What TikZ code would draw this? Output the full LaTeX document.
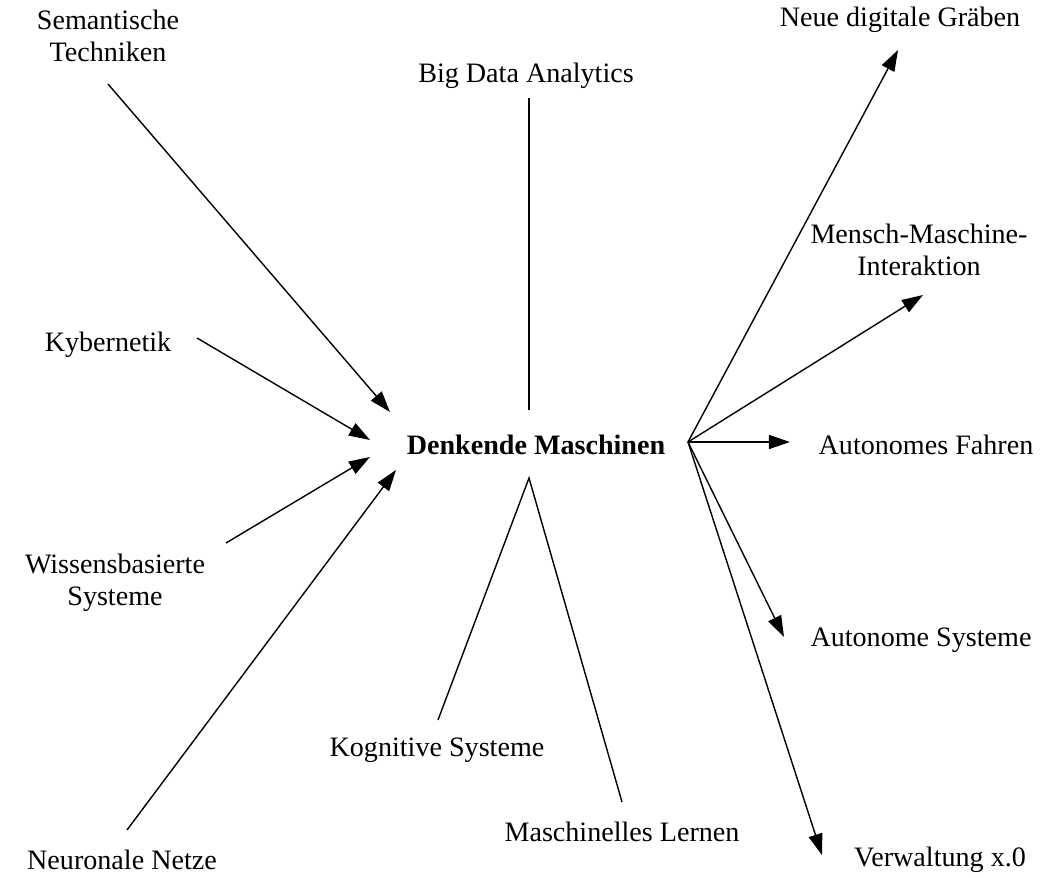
\documentclass[tikz,border=0pt]{standalone}
\usepackage{fontspec}
\setmainfont{Liberation Serif}
\usetikzlibrary{arrows.meta}

\begin{document}
\begin{tikzpicture}[x=0.02cm,y=-0.02cm,
  every node/.style={font=\fontsize{16}{18.5}\selectfont, align=center},
  linie/.style={line width=0.8pt},
  pfeil/.style={line width=0.8pt, -{Triangle[length=12pt,width=8pt]}}]
  \useasboundingbox (0,0) rectangle (1045,878);
  % Mitte
  \node[font=\fontsize{16}{18.5}\selectfont\bfseries] (dm) at (536,445) {Denkende Maschinen};
  \coordinate (dm-sem) at (390,412);
  \coordinate (dm-kyb) at (370,440);
  \coordinate (dm-wis) at (370,457);
  \coordinate (dm-neu) at (396,470);
  \coordinate (dm-top) at (529,410);
  \coordinate (dm-bot) at (529,478);
  \coordinate (dm-out) at (688,442);
  % links
  \node (sem) at (108,36) {Semantische\\Techniken};
  \node (kyb) at (108,345) {Kybernetik};
  \node (wis) at (115,583) {Wissensbasierte\\Systeme};
  \node (neu) at (122,860) {Neuronale Netze};
  \coordinate (sem-a) at (108,84);
  \coordinate (kyb-a) at (197,338);
  \coordinate (wis-a) at (226,543);
  \coordinate (neu-a) at (127,830);
  \draw[pfeil] (sem-a) -- (dm-sem);
  \draw[pfeil] (kyb-a) -- (dm-kyb);
  \draw[pfeil] (wis-a) -- (dm-wis);
  \draw[pfeil] (neu-a) -- (dm-neu);
  % oben und unten
  \node (bda) at (526,76) {Big Data Analytics};
  \node (kog) at (437,750) {Kognitive Systeme};
  \node (mle) at (622,832) {Maschinelles Lernen};
  \coordinate (bda-a) at (529,98);
  \coordinate (kog-a) at (438,720);
  \coordinate (mle-a) at (622,802);
  \draw[linie] (bda-a) -- (dm-top);
  \draw[linie] (kog-a) -- (dm-bot) -- (mle-a);
  % rechts
  \node (ndg) at (900,20) {Neue digitale Gräben};
  \node (mmi) at (919,250) {Mensch-Maschine-\\Interaktion};
  \node (afa) at (926,445) {Autonomes Fahren};
  \node (asy) at (921,640) {Autonome Systeme};
  \node (ver) at (940,860) {Verwaltung x.0};
  \coordinate (ndg-a) at (898,50);
  \coordinate (mmi-a) at (923,295);
  \coordinate (afa-a) at (790,442);
  \coordinate (asy-a) at (784,637);
  \coordinate (ver-a) at (822,855);
  \draw[pfeil] (dm-out) -- (ndg-a);
  \draw[pfeil] (dm-out) -- (mmi-a);
  \draw[pfeil] (dm-out) -- (afa-a);
  \draw[pfeil] (dm-out) -- (asy-a);
  \draw[pfeil] (dm-out) -- (ver-a);
\end{tikzpicture}
\end{document}
